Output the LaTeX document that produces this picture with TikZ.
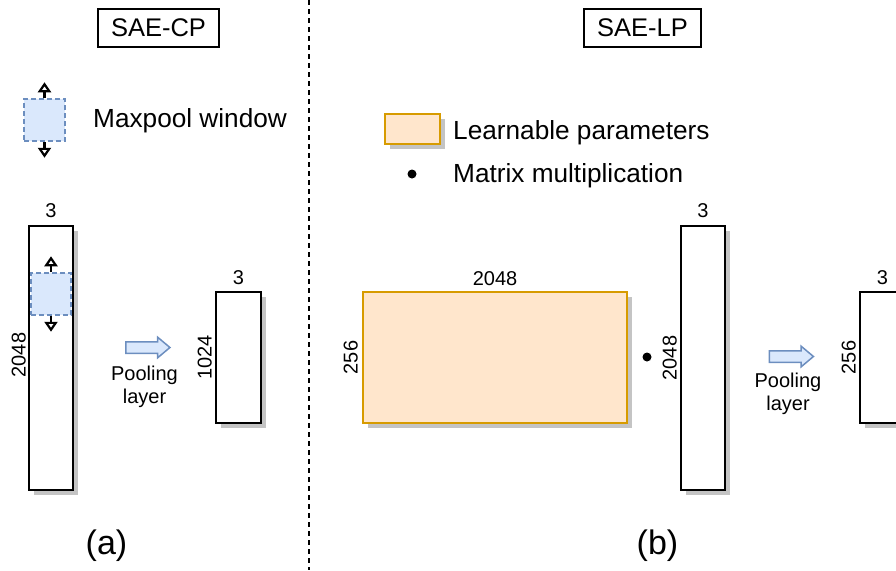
\documentclass[tikz,border=0pt]{standalone}
\usepackage{fontspec}
\setmainfont{Liberation Sans}
\usetikzlibrary{arrows.meta,shapes.arrows,shadows,positioning}
\definecolor{blueF}{HTML}{DAE8FC}
\definecolor{blueD}{HTML}{6C8EBF}
\definecolor{peachF}{HTML}{FFE6CC}
\definecolor{peachD}{HTML}{D79B00}
\definecolor{shadowG}{HTML}{C4C4C4}
\tikzset{
  shad/.style={drop shadow={shadow xshift=5pt, shadow yshift=-5pt, fill=shadowG, opacity=1}},
  vec/.style={draw=black, line width=2pt, fill=white, inner sep=0pt, shad},
  param/.style={draw=peachD, line width=2pt, fill=peachF, inner sep=0pt, shad},
  window/.style={draw=blueD, fill=blueF, line width=1.5pt, dash pattern=on 5pt off 3pt, inner sep=0pt},
  titlebox/.style={draw=black, line width=1.5pt, fill=white, inner sep=0pt, font=\fontsize{25.5}{30}\selectfont},
  big/.style={inner sep=0pt, font=\fontsize{26.2}{30}\selectfont},
  dim/.style={inner sep=0pt, font=\fontsize{20}{23}\selectfont},
  captxt/.style={inner sep=0pt, font=\fontsize{34}{40}\selectfont},
  mparrow/.style={draw=black, line width=2.5pt, -{Triangle[fill=white, length=10pt 0, width=13pt 0, line width=2.2pt]}},
  divider/.style={draw=black, line width=1.8pt, dash pattern=on 5pt off 4pt},
  dotnode/.style={circle, fill=black, minimum size=9pt, inner sep=0pt},
  poolarrow/.style={single arrow, draw=blueD, fill=blueF, line width=1.5pt, minimum height=44pt, inner sep=5pt, single arrow head extend=4.5pt, single arrow tip angle=80},
}
\begin{document}
\begin{tikzpicture}[x=1pt,y=-1pt]
\useasboundingbox (0,0) rectangle (896,570);
% titles
\node[titlebox, minimum width=121pt, minimum height=38pt] (tcp) at (158.5,28) {SAE-CP};
\node[titlebox, minimum width=117pt, minimum height=38pt] (tlp) at (642.5,28) {SAE-LP};
% divider
\coordinate (divtop) at (309,0);
\coordinate (divbot) at (309,570);
\draw[divider] (divtop) -- (divbot);

% ---- (a) ----
\node[window, minimum width=41pt, minimum height=42pt] (lwin) at (44.5,120) {};
\coordinate (lwinup) at ([yshift=16pt]lwin.north);
\coordinate (lwindn) at ([yshift=-16pt]lwin.south);
\draw[mparrow] (lwin.north) -- (lwinup);
\draw[mparrow] (lwin.south) -- (lwindn);
\node[big, anchor=base west] (lwintxt) at (93,127) {Maxpool window};

\node[vec, minimum width=44pt, minimum height=264pt] (colA) at (51,358) {};
\node[window, minimum width=40pt, minimum height=42pt] (win) at (51,294) {};
\coordinate (winup) at ([yshift=16pt]win.north);
\coordinate (windn) at ([yshift=-16pt]win.south);
\draw[mparrow] (win.north) -- (winup);
\draw[mparrow] (win.south) -- (windn);
\node[dim, above=7pt of colA.north] (colAw) {3};
\node[dim, rotate=90, anchor=south] (colAh) at ([xshift=-2pt,yshift=3pt]colA.west) {2048};

\node[poolarrow] (pa) at (144.5,347.5) {};
\node[dim, align=center, below=12pt of pa] (patxt) {Pooling\\layer};

\node[vec, minimum width=45pt, minimum height=131pt] (outA) at (238.5,357.5) {};
\node[dim, above=6pt of outA.north] (outAw) {3};
\node[dim, rotate=90, anchor=south] (outAh) at ([xshift=-3pt]outA.west) {1024};

\node[captxt, anchor=base] (capa) at (106.5,554) {(a)};

% ---- (b) ----
\node[param, minimum width=55pt, minimum height=30pt] (lpar) at (412.5,129) {};
\node[big, anchor=base west] (lpartxt) at (453,139) {Learnable parameters};
\node[dotnode] (ldot) at (412,174) {};
\node[big, anchor=base west] (ldottxt) at (453,182) {Matrix multiplication};

\node[param, minimum width=264pt, minimum height=131pt] (W) at (495,357.5) {};
\node[dim, above=5pt of W.north] (Ww) {2048};
\node[dim, rotate=90, anchor=south] (Wh) at ([xshift=-4pt]W.west) {256};

\node[dotnode] (mm) at (647,357) {};

\node[vec, minimum width=44pt, minimum height=264pt] (colB) at (703,358) {};
\node[dim, above=7pt of colB.north] (colBw) {3};
\node[dim, rotate=90, anchor=south] (colBh) at ([xshift=-3pt]colB.west) {2048};

\node[poolarrow] (pb) at (788,356.5) {};
\node[dim, align=center, below=10pt of pb] (pbtxt) {Pooling\\layer};

\node[vec, minimum width=45pt, minimum height=131pt] (outB) at (882.5,357.5) {};
\node[dim, above=6pt of outB.north] (outBw) {3};
\node[dim, rotate=90, anchor=south] (outBh) at ([xshift=-3pt]outB.west) {256};

\node[captxt, anchor=base] (capb) at (657.5,554) {(b)};
\end{tikzpicture}
\end{document}
